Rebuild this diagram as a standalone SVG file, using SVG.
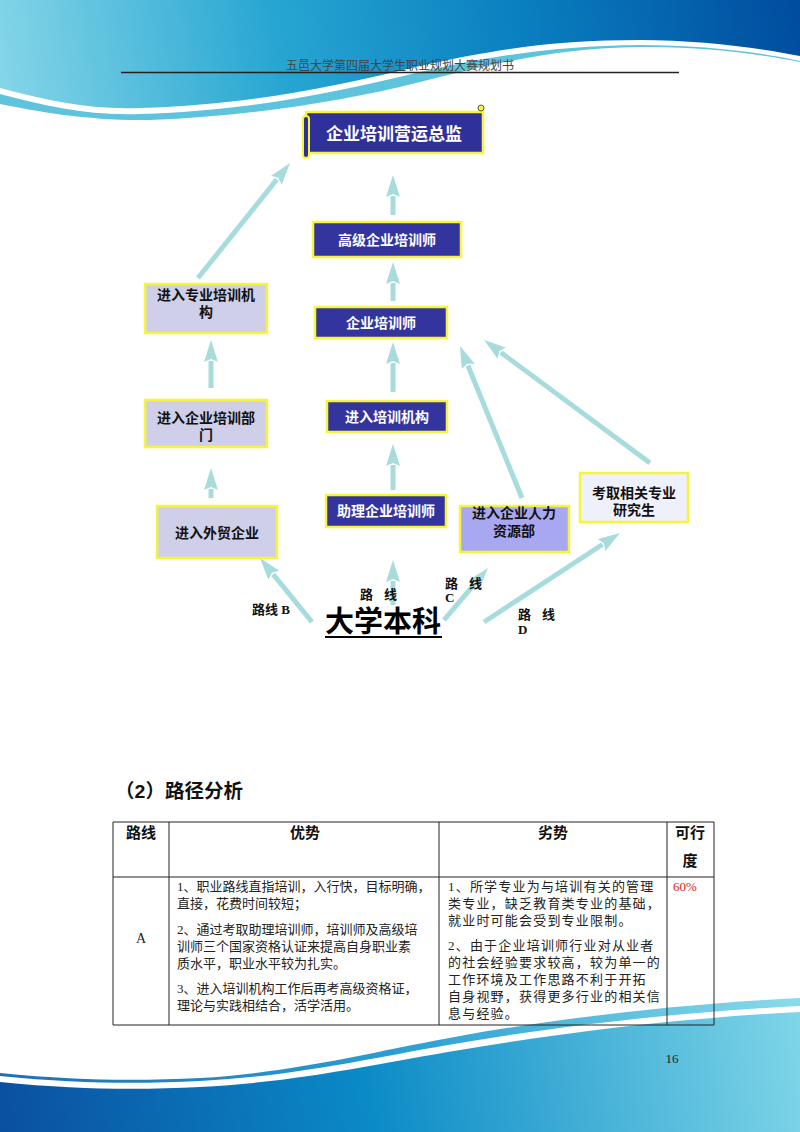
<svg xmlns="http://www.w3.org/2000/svg" width="800" height="1132" viewBox="0 0 800 1132">
<style>
.cjk{font-family:"Liberation Sans","Noto Sans CJK SC",sans-serif}
.ser{font-family:"Liberation Serif","Noto Sans CJK SC",serif}
.dark rect.b{fill:#34349e;stroke:#f7f53a;stroke-width:2.5}
.lav rect.b{fill:#cfcfe9;stroke:#f7f53a;stroke-width:2.5}
.wt{fill:#ffffff;font-weight:bold;font-size:14px;text-anchor:middle}
.bt{fill:#111111;font-weight:bold;font-size:14px;text-anchor:middle}
.conn line{stroke:#a8dcdc;stroke-width:5;marker-end:url(#ah)}
.lbl{font-weight:bold;font-size:13px;fill:#111}
.tb line{stroke:#222;stroke-width:1}
.th{font-weight:bold;font-size:15px;fill:#111;text-anchor:middle}
.td{font-size:13px;fill:#222}
</style>
<defs>
<marker id="ah" markerUnits="userSpaceOnUse" markerWidth="22" markerHeight="14" viewBox="0 0 22 14" refX="1" refY="7" orient="auto"><path d="M0,0 L22,7 L0,14 L3,7Z" fill="#a8dcdc"/></marker>
<linearGradient id="topg" x1="0" y1="110" x2="800" y2="0" gradientUnits="userSpaceOnUse">
<stop offset="0" stop-color="#86d6e8"/><stop offset="0.35" stop-color="#27a6d2"/><stop offset="0.65" stop-color="#0a80c0"/><stop offset="1" stop-color="#004c9e"/>
</linearGradient>
<linearGradient id="botg" x1="0" y1="1132" x2="800" y2="1000" gradientUnits="userSpaceOnUse">
<stop offset="0" stop-color="#0b4fa0"/><stop offset="0.45" stop-color="#0a8ac6"/><stop offset="1" stop-color="#7fd6e8"/>
</linearGradient>
<linearGradient id="stripg" x1="0" y1="0" x2="800" y2="0" gradientUnits="userSpaceOnUse">
<stop offset="0" stop-color="#1e6fb8"/><stop offset="0.5" stop-color="#2a9fd2"/><stop offset="1" stop-color="#8adbea"/>
</linearGradient>
</defs>
<rect width="800" height="1132" fill="#ffffff"/>
<g id="header">
<path d="M0,0 H800 V62 C760,54 700,46 640,47 C560,48 500,62 420,82 C340,102 250,116 150,120 C90,121 40,112 0,104 Z" fill="#5ec4dd"/>
<path d="M0,0 H800 V61 C760,52 700,45 640,45 C560,46 500,54 420,72 C330,94 250,110 140,114 C90,116 45,106 0,94 Z" fill="#ffffff"/>
<path d="M0,0 H800 V56 C760,48 700,40 640,40 C560,40 500,48 420,66 C330,88 250,104 140,108 C90,110 45,100 0,88 Z" fill="url(#topg)"/>
<text x="400" y="70" class="cjk" font-size="12" fill="#444" text-anchor="middle">五邑大学第四届大学生职业规划大赛规划书</text>
<line x1="121" y1="72.5" x2="679" y2="72.5" stroke="#222" stroke-width="1.5"/>
</g>
<g id="footer">
<path d="M0,1073 C80,1081 140,1081 200,1078 C300,1072 380,1050 460,1036 C560,1018 680,1004 800,998 V1132 H0 Z" fill="url(#stripg)"/>
<path d="M0,1076 C80,1084 140,1084 200,1081 C300,1076 380,1056 460,1043 C560,1026 680,1012 800,1006 V1132 H0 Z" fill="#ffffff"/>
<path d="M0,1082 C80,1090 140,1090 200,1087 C300,1082 380,1063 460,1050 C560,1033 680,1018 800,1012 V1132 H0 Z" fill="url(#botg)"/>
<text x="672" y="1063" class="ser" font-size="13" fill="#222" text-anchor="middle">16</text>
</g>
<g id="connectors" class="conn">
<line x1="393" y1="215" x2="393" y2="196"/>
<line x1="393" y1="301" x2="393" y2="283"/>
<line x1="393" y1="392" x2="393" y2="363"/>
<line x1="393" y1="490" x2="393" y2="465"/>
<line x1="393" y1="605" x2="393" y2="581"/>
<line x1="211" y1="498" x2="211" y2="489"/>
<line x1="211" y1="388" x2="211" y2="361"/>
<line x1="198" y1="278" x2="276.9" y2="179.4"/>
<line x1="312" y1="622" x2="273.2" y2="574.3"/>
<line x1="444" y1="620" x2="474.4" y2="584.1"/>
<line x1="484" y1="622" x2="602.4" y2="544.5"/>
<line x1="522" y1="498" x2="467.9" y2="365.5"/>
<line x1="650" y1="463" x2="500.9" y2="352.5"/>
</g>
<g id="n-zongjian" class="dark cjk">
<rect class="b" x="306" y="112" width="177" height="41" style="fill:#30309a"/>
<rect x="303" y="116" width="6" height="42" rx="3" fill="#30309a" stroke="#f7f53a" stroke-width="2"/>
<circle cx="481" cy="108" r="3" fill="#f7f53a" stroke="#333" stroke-width="0.8"/>
<text x="394" y="140" class="wt" style="font-size:17px">企业培训营运总监</text>
</g>
<g id="n-gaoji" class="dark cjk">
<rect class="b" x="313" y="222" width="148" height="35"/>
<text x="387" y="245" class="wt">高级企业培训师</text>
</g>
<g id="n-peixunshi" class="dark cjk">
<rect class="b" x="315" y="307" width="132" height="31"/>
<text x="381" y="328" class="wt">企业培训师</text>
</g>
<g id="n-jigou" class="dark cjk">
<rect class="b" x="327" y="401" width="120" height="31"/>
<text x="387" y="422" class="wt">进入培训机构</text>
</g>
<g id="n-zhuli" class="dark cjk">
<rect class="b" x="326" y="495" width="120" height="32"/>
<text x="386" y="516" class="wt">助理企业培训师</text>
</g>
<g id="n-zhuanye" class="lav cjk">
<rect class="b" x="145" y="284" width="122" height="49"/>
<text x="206" y="300" class="bt">进入专业培训机</text>
<text x="206" y="317" class="bt">构</text>
</g>
<g id="n-bumen" class="lav cjk">
<rect class="b" x="145" y="400" width="122" height="47"/>
<text x="206" y="423" class="bt">进入企业培训部</text>
<text x="206" y="440" class="bt">门</text>
</g>
<g id="n-waimao" class="lav cjk">
<rect class="b" x="157" y="506" width="120" height="52"/>
<text x="217" y="538" class="bt">进入外贸企业</text>
</g>
<g id="n-hr" class="cjk">
<rect x="460" y="506" width="109" height="46" fill="#a8a8f2" stroke="#f7f53a" stroke-width="2.5"/>
<text x="514" y="518" class="bt">进入企业人力</text>
<text x="514" y="536" class="bt">资源部</text>
</g>
<g id="n-yanjiusheng" class="cjk">
<rect x="580" y="473" width="108" height="49" fill="#eef0fb" stroke="#f7f53a" stroke-width="2.5"/>
<text x="634" y="498" class="bt">考取相关专业</text>
<text x="634" y="515" class="bt">研究生</text>
</g>
<g id="n-benke" class="cjk">
<text x="383" y="632" font-size="29" font-weight="bold" fill="#000" text-anchor="middle">大学本科</text>
<line x1="325" y1="637" x2="442" y2="637" stroke="#000" stroke-width="2"/>
</g>
<g id="labels" class="ser">
<text x="360" y="599" class="lbl">路</text><text x="384" y="599" class="lbl">线</text>
<text x="252" y="614" class="lbl">路线 B</text>
<text x="445" y="588" class="lbl">路</text><text x="469" y="588" class="lbl">线</text>
<text x="445" y="602" class="lbl">C</text>
<text x="518" y="619" class="lbl">路</text><text x="542" y="619" class="lbl">线</text>
<text x="518" y="634" class="lbl">D</text>
</g>
<g id="section" class="cjk">
<text x="115" y="798" font-size="19" font-weight="bold" fill="#111" textLength="128" lengthAdjust="spacingAndGlyphs">（2）路径分析</text>
</g>
<g id="table" class="tb">
<line x1="113" y1="822" x2="714" y2="822"/>
<line x1="113" y1="877" x2="714" y2="877"/>
<line x1="113" y1="1025" x2="714" y2="1025"/>
<line x1="113" y1="822" x2="113" y2="1025"/>
<line x1="169" y1="822" x2="169" y2="1025"/>
<line x1="439" y1="822" x2="439" y2="1025"/>
<line x1="667" y1="822" x2="667" y2="1025"/>
<line x1="714" y1="822" x2="714" y2="1025"/>
<g class="cjk">
<text x="141" y="838" class="th">路线</text>
<text x="305" y="838" class="th">优势</text>
<text x="553" y="838" class="th">劣势</text>
<text x="690" y="838" class="th">可行</text>
<text x="690" y="866" class="th">度</text>
</g>
<g class="ser td">
<text x="141" y="943" text-anchor="middle" font-size="14">A</text>
<text x="177" y="891">1、职业路线直指培训，入行快，目标明确，</text>
<text x="177" y="908">直接，花费时间较短；</text>
<text x="177" y="934">2、通过考取助理培训师，培训师及高级培</text>
<text x="177" y="951">训师三个国家资格认证来提高自身职业素</text>
<text x="177" y="968">质水平，职业水平较为扎实。</text>
<text x="177" y="993">3、进入培训机构工作后再考高级资格证，</text>
<text x="177" y="1010">理论与实践相结合，活学活用。</text>
<g letter-spacing="1.2">
<text x="448" y="891">1、所学专业为与培训有关的管理</text>
<text x="448" y="908">类专业，缺乏教育类专业的基础，</text>
<text x="448" y="925">就业时可能会受到专业限制。</text>
<text x="448" y="950">2、由于企业培训师行业对从业者</text>
<text x="448" y="967">的社会经验要求较高，较为单一的</text>
<text x="448" y="984">工作环境及工作思路不利于开拓</text>
<text x="448" y="1001">自身视野，获得更多行业的相关信</text>
<text x="448" y="1018">息与经验。</text>
</g>
<text x="673" y="891" fill="#e02020" font-size="13">60%</text>
</g>
</g>
</svg>
